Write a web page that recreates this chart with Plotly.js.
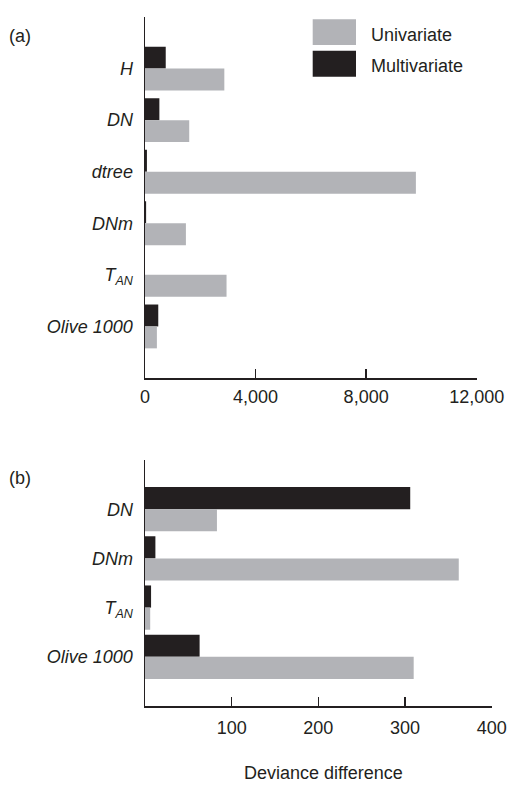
<!DOCTYPE html>
<html>
<head>
<meta charset="utf-8">
<script src="https://cdn.plot.ly/plotly-3.0.1.min.js"></script>
<style>
html,body{margin:0;padding:0;background:#fff;}
#chart{width:509px;height:785px;}
</style>
</head>
<body>
<div id="chart"></div>
<script>
// ---- Data ----
var catsA = ['H', 'DN', 'dtree', 'DNm', 'TAN', 'Olive 1000'];
var labelsA = ['<i>H</i>', '<i>DN</i>', '<i>dtree</i>', '<i>DNm</i>', '<i>T<sub>AN</sub></i>', '<i>Olive 1000</i>'];
var univariateA = [2870, 1600, 9800, 1480, 2950, 430];
var multivariateA = [750, 520, 70, 40, 0, 480];

var catsB = ['DN', 'DNm', 'TAN', 'Olive 1000'];
var labelsB = ['<i>DN</i>', '<i>DNm</i>', '<i>T<sub>AN</sub></i>', '<i>Olive 1000</i>'];
var univariateB = [83, 362, 6, 310];
var multivariateB = [306, 12, 7, 63];

var tickValsA = [0, 4000, 8000, 12000];
var tickTextA = ['0', '4,000', '8,000', '12,000'];
var tickValsB = [100, 200, 300, 400];
var tickTextB = ['100', '200', '300', '400'];

var seriesNames = ['Univariate', 'Multivariate'];
var xTitle = 'Deviance difference';
var panelLabels = ['(a)', '(b)'];

// ---- Style ----
var W = 509, H = 785;
function px(x){ return x / W; }
function py(y){ return 1 - y / H; }
var GRAY = '#b2b3b7', BLACK = '#231f20';
var FONT = '"Liberation Sans", Arial, sans-serif';
var FS = 18;
var wA = 0.425, wB = 0.45;

var traces = [
  {type:'bar', orientation:'h', y: catsA, x: multivariateA, xaxis:'x', yaxis:'y',
   marker:{color:BLACK}, width:wA, offset:-wA, name: seriesNames[1], showlegend:false, hoverinfo:'x+y'},
  {type:'bar', orientation:'h', y: catsA, x: univariateA, xaxis:'x', yaxis:'y',
   marker:{color:GRAY}, width:wA, offset:0, name: seriesNames[0], showlegend:false, hoverinfo:'x+y'},
  {type:'bar', orientation:'h', y: catsB, x: multivariateB, xaxis:'x2', yaxis:'y2',
   marker:{color:BLACK}, width:wB, offset:-wB, name: seriesNames[1], showlegend:false, hoverinfo:'x+y'},
  {type:'bar', orientation:'h', y: catsB, x: univariateB, xaxis:'x2', yaxis:'y2',
   marker:{color:GRAY}, width:wB, offset:0, name: seriesNames[0], showlegend:false, hoverinfo:'x+y'}
];

var xCommon = {
  showline:true, linecolor:BLACK, linewidth:1.5, mirror:false,
  ticks:'inside', ticklen:9, tickwidth:1.5, tickcolor:BLACK,
  showgrid:false, zeroline:false, fixedrange:true,
  tickfont:{family:FONT, size:FS, color:BLACK}, ticklabelstandoff:2
};
var yCommon = {
  type:'category', showline:true, linecolor:BLACK, linewidth:1.5,
  ticks:'', showgrid:false, zeroline:false, fixedrange:true,
  tickfont:{family:FONT, size:FS, color:BLACK}, ticklabelstandoff:7
};

var layout = {
  width:W, height:H,
  margin:{l:0, r:0, t:0, b:0},
  paper_bgcolor:'#fff', plot_bgcolor:'#fff',
  barmode:'overlay',
  showlegend:false,
  font:{family:FONT, size:FS, color:BLACK},
  xaxis: Object.assign({}, xCommon, {domain:[px(145), px(476.7)], range:[0, 12000], anchor:'y',
    tickvals:tickValsA, ticktext:tickTextA}),
  yaxis: Object.assign({}, yCommon, {domain:[py(378), py(17)], anchor:'x',
    categoryorder:'array', categoryarray:catsA, range:[6, -1],
    tickvals:catsA, ticktext:labelsA}),
  xaxis2: Object.assign({}, xCommon, {domain:[px(145), px(491.7)], range:[0, 400], anchor:'y2',
    tickvals:tickValsB, ticktext:tickTextB, ticklabelstandoff:5}),
  yaxis2: Object.assign({}, yCommon, {domain:[py(706), py(460)], anchor:'x2',
    categoryorder:'array', categoryarray:catsB, range:[4, -1],
    tickvals:catsB, ticktext:labelsB}),
  shapes:[
    {type:'rect', xref:'paper', yref:'paper', x0:px(312.7), x1:px(356), y0:py(45), y1:py(19.3),
     fillcolor:GRAY, line:{width:0}},
    {type:'rect', xref:'paper', yref:'paper', x0:px(312.7), x1:px(356), y0:py(76.7), y1:py(50.7),
     fillcolor:BLACK, line:{width:0}}
  ],
  annotations:[
    {xref:'paper', yref:'paper', x:px(369), y:py(35.5), xanchor:'left', yanchor:'middle',
     text:seriesNames[0], showarrow:false, font:{family:FONT, size:FS, color:BLACK}},
    {xref:'paper', yref:'paper', x:px(369), y:py(66.5), xanchor:'left', yanchor:'middle',
     text:seriesNames[1], showarrow:false, font:{family:FONT, size:FS, color:BLACK}},
    {xref:'paper', yref:'paper', x:px(7), y:py(36), xanchor:'left', yanchor:'middle',
     text:panelLabels[0], showarrow:false, font:{family:FONT, size:FS, color:BLACK}},
    {xref:'paper', yref:'paper', x:px(7), y:py(478), xanchor:'left', yanchor:'middle',
     text:panelLabels[1], showarrow:false, font:{family:FONT, size:FS, color:BLACK}},
    {xref:'paper', yref:'paper', x:px(323.5), y:py(773), xanchor:'center', yanchor:'middle',
     text:xTitle, showarrow:false, font:{family:FONT, size:FS, color:BLACK}}
  ]
};

Plotly.newPlot('chart', traces, layout, {staticPlot:true, displayModeBar:false});
</script>
</body>
</html>
